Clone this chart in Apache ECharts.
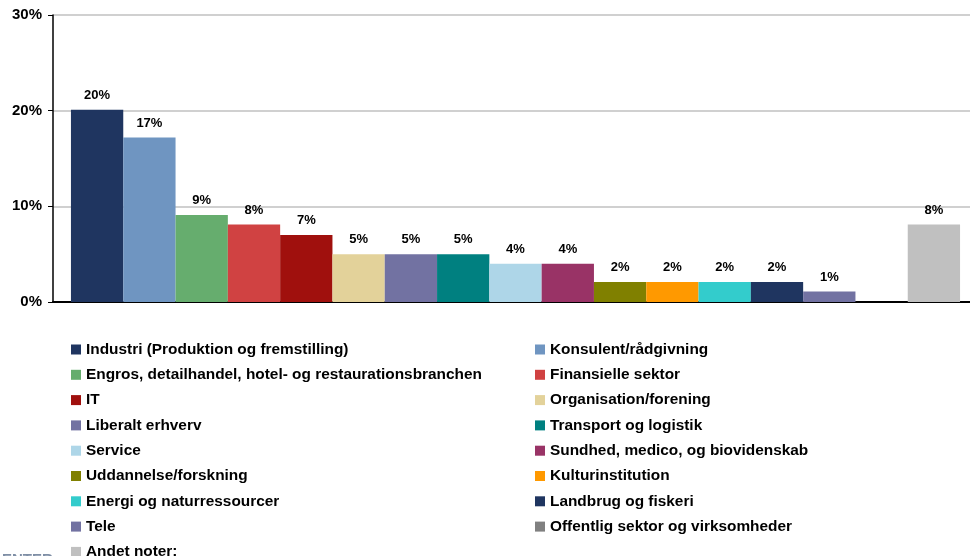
<!DOCTYPE html>
<html>
<head>
<meta charset="utf-8">
<script src="https://cdn.jsdelivr.net/npm/echarts@6/dist/echarts.min.js"></script>
<style>
  html, body { margin: 0; padding: 0; background: #fff; }
  #chart { width: 970px; height: 556px; }
</style>
</head>
<body>
<div id="chart"></div>
<script>
/* brancher - andel i procent */
var seriesNames = [
    'Industri (Produktion og fremstilling)', 'Konsulent/rådgivning',
    'Engros, detailhandel, hotel- og restaurationsbranchen', 'Finansielle sektor',
    'IT', 'Organisation/forening',
    'Liberalt erhverv', 'Transport og logistik',
    'Service', 'Sundhed, medico, og biovidenskab',
    'Uddannelse/forskning', 'Kulturinstitution',
    'Energi og naturressourcer', 'Landbrug og fiskeri',
    'Tele', 'Offentlig sektor og virksomheder',
    'Andet noter:'
];
var seriesValues = [20.1, 17.2, 9.1, 8.1, 7.0, 5.0, 5.0, 5.0, 4.0, 4.0, 2.1, 2.1, 2.1, 2.1, 1.1, 0, 8.1];
var seriesColors = ['#1f3560', '#6f95c1', '#66ad6e', '#d04242', '#a0100d', '#e3d29a',
    '#7272a2', '#008080', '#aed6e8', '#993366', '#808000', '#ff9900',
    '#33cccc', '#1f3560', '#7272a2', '#808080', '#c0c0c0'];
var yTicks = [0, 10, 20, 30];

var fontFam = 'Liberation Sans, Arial, sans-serif';

var series = seriesNames.map(function (n, i) {
    return {
        name: n,
        type: 'bar',
        barGap: 0,
        barWidth: 52.3,
        data: [seriesValues[i]],
        itemStyle: { color: seriesColors[i] },
        label: {
            show: true,
            position: 'top',
            distance: 8,
            fontFamily: fontFam,
            fontWeight: 'bold',
            fontSize: 13,
            color: '#000',
            formatter: function (p) {
                return p.value ? Math.round(p.value) + '%' : '';
            }
        }
    };
});

var leftCol = seriesNames.filter(function (n, i) { return i % 2 === 0; });
var rightCol = seriesNames.filter(function (n, i) { return i % 2 === 1; });

function makeLegend(data, left) {
    return {
        data: data,
        orient: 'vertical',
        left: left,
        top: 342,
        height: 400,
        padding: 0,
        itemGap: 10.3,
        itemWidth: 10,
        itemHeight: 10,
        icon: 'rect',
        selectedMode: false,
        textStyle: {
            fontFamily: fontFam,
            fontWeight: 'bold',
            fontSize: 15.4,
            color: '#000'
        }
    };
}

var chart = echarts.init(document.getElementById('chart'));
chart.setOption({
    animation: false,
    grid: { left: 53, top: 15, width: 925, height: 287, outerBoundsMode: 'none' },
    legend: [makeLegend(leftCol, 71), makeLegend(rightCol, 535)],
    xAxis: {
        type: 'category',
        data: [''],
        axisLine: { lineStyle: { color: '#000', width: 2 } },
        axisTick: { show: false },
        axisLabel: { show: false }
    },
    yAxis: {
        type: 'value',
        min: yTicks[0],
        max: yTicks[yTicks.length - 1],
        interval: 10,
        axisLine: { show: true, lineStyle: { color: '#000', width: 1.5 } },
        axisTick: { show: true, length: 5, lineStyle: { color: '#000' } },
        splitLine: { lineStyle: { color: '#c0c0c0', width: 1.5 } },
        axisLabel: {
            margin: 11,
            fontFamily: fontFam,
            fontWeight: 'bold',
            fontSize: 15,
            color: '#000',
            formatter: '{value}%'
        }
    },
    graphic: [{
        type: 'text',
        left: 2,
        top: 552,
        style: { text: 'ENTER', fill: '#7f8fa6', font: 'bold 15px ' + fontFam }
    }],
    series: series
});
</script>
</body>
</html>
